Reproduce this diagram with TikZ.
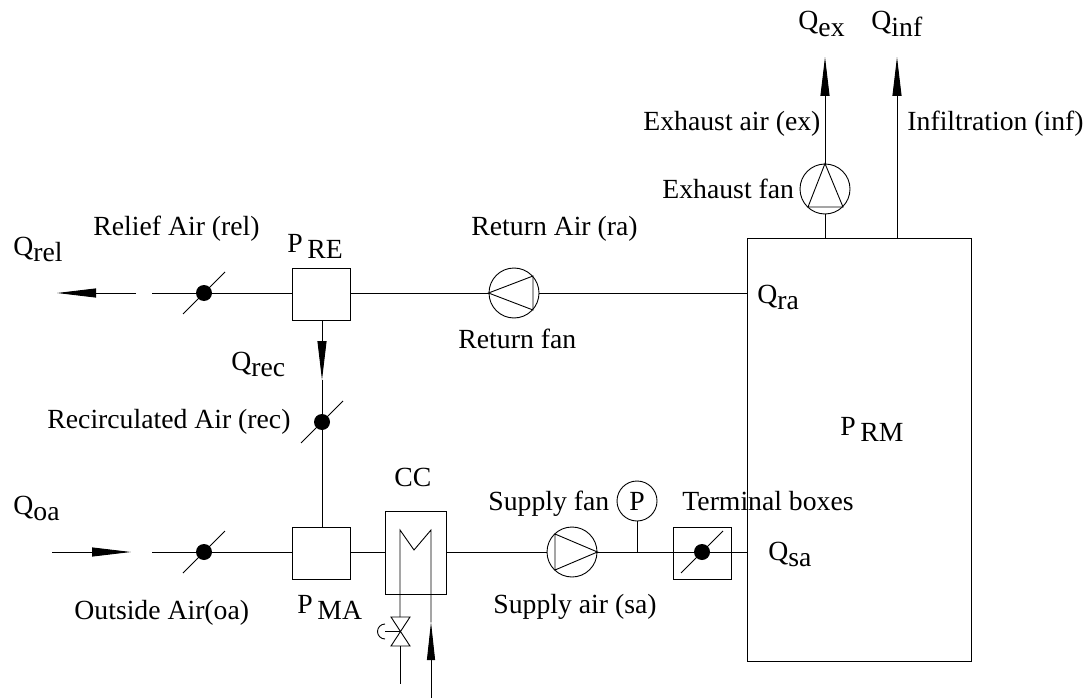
\documentclass[tikz,border=0pt]{standalone}
\usepackage{fontspec}
\setmainfont{Liberation Serif}
\usetikzlibrary{calc,positioning,arrows.meta}
\newcommand{\Qsub}[2]{#1\raisebox{-0.5ex}{#2}}
\tikzset{
    x=1pt, y=-1pt,
    every node/.style={font=\fontsize{27.7}{32}\selectfont},
    every path/.style={line width=0.9pt},
    boxN/.style={draw, minimum width=58pt, minimum height=52pt, inner sep=0pt},
    fanN/.style={draw, circle, minimum size=50pt, inner sep=0pt},
    dotN/.style={circle, fill=black, minimum size=16pt, inner sep=0pt},
    flow/.style={-{Triangle[length=39pt,width=9pt]}},
    lbl/.style={inner sep=0pt, anchor=base west}
}
\begin{document}
\begin{tikzpicture}
	\useasboundingbox (0,0) rectangle (1090,698);
	% room
	\node[draw, minimum width=224pt, minimum height=423pt, inner sep=0pt] (rm) at (859,449.5) {};
	\coordinate (rmRa) at (rm.west |- 0,293);
	\coordinate (rmSa) at (rm.west |- 0,552);
	% mixing boxes
	\node[boxN] (re) at (321,294) {};
	\node[boxN] (ma) at (321,553) {};
	\node[draw, minimum width=61pt, minimum height=83pt, inner sep=0pt] (cc) at (415.5,552.5) {};
	\node[boxN] (tb) at (702,553) {};
	% fans
	\node[fanN] (fr) at (514,293) {};
	\node[fanN] (fs) at (572,552) {};
	\node[fanN] (fe) at (825,189) {};
	\draw (fr.west) -- (533,276) -- (533,310) -- cycle;
	\draw (fs.east) -- (555,534) -- (555,570) -- cycle;
	\draw (fe.north) -- (808,207) -- (843,207) -- cycle;
	% dampers
	\node[dotN] (d1) at (204,293) {};
	\node[dotN] (d2) at (322,422) {};
	\node[dotN] (d3) at (204,552) {};
	\node[dotN] (d4) at (702,552) {};
	\foreach \d in {d1,d2,d3,d4}
		\draw ($(\d)+(-21,21)$) -- ($(\d)+(21,-21)$);
	% pressure sensor
	\node[draw, circle, minimum size=40pt, inner sep=0pt] (ps) at (637,501) {P};
	\coordinate (psT) at (637,552);
	% free ends
	\coordinate (relA) at (136,293);
	\coordinate (relT) at (57,293);
	\coordinate (relB) at (152,293);
	\coordinate (oaA) at (52,552);
	\coordinate (oaT) at (131,552);
	\coordinate (oaB) at (152,552);
	\coordinate (exT) at (825,57);
	\coordinate (inT) at (897,57);
	\coordinate (inB) at (897,238);
	\coordinate (exB) at (825,238);
	\coordinate (reB) at (322,320);
	\coordinate (recT) at (322,380);
	\coordinate (maT) at (322,527);
	% ducts
	\draw (relB) -- (relB -| re.west);
	\draw[flow] (relA) -- (relT);
	\draw (fr.west -| re.east) -- (fr.west);
	\draw (fr.east) -- (rmRa);
	\draw[flow] (reB) -- (recT);
	\draw (recT) -- (maT);
	\draw (oaB) -- (oaB -| ma.west);
	\draw[flow] (oaA) -- (oaT);
	\draw (oaB -| ma.east) -- (oaB -| cc.west);
	\draw (oaB -| cc.east) -- (fs.west);
	\draw (fs.east) -- (rmSa);
	\draw (ps.south) -- (psT);
	\draw (exB) -- (fe.south);
	\draw[flow] (fe.north) -- (exT);
	\draw[flow] (inB) -- (inT);
	% coil and valve
	\coordinate (vT) at (400,617);
	\coordinate (vC) at (400,631.5);
	\coordinate (vB) at (400,646);
	\coordinate (vE) at (400,684);
	\coordinate (wT) at (431,622);
	\coordinate (wE) at (431,698);
	\coordinate (act) at (385,631.5);
	\draw (vT) -- (400,530) -- (414,550) -- (431,530) -- (wT);
	\draw (391,617) -- (410,617) -- (391,646) -- (410,646) -- cycle;
	\draw (vB) -- (vE);
	\draw (vC) -- (act);
	\draw (385,639) arc[start angle=90, end angle=270, radius=7.5];
	\draw[-{Triangle[length=38pt,width=8pt]}] (wE) -- (wT);
	% labels
	\node[lbl] (lQrel) at (13,255) {\Qsub{Q}{rel}};
	\node[lbl] (lRel) at (93,235) {Relief Air (rel)};
	\node[lbl] (lPre) at (287,252) {P\,\raisebox{-0.5ex}{RE}};
	\node[lbl] (lRa) at (471,235) {Return Air (ra)};
	\node[lbl] (lRf) at (458,348) {Return fan};
	\node[lbl] (lQra) at (757,303) {\Qsub{Q}{ra}};
	\node[lbl] (lQrec) at (231,370) {\Qsub{Q}{rec}};
	\node[lbl] (lRec) at (47,428) {Recirculated Air (rec)};
	\node[lbl] (lQoa) at (13,514) {\Qsub{Q}{oa}};
	\node[lbl] (lOa) at (74,619) {Outside Air(oa)};
	\node[lbl] (lPma) at (297,613) {P\,\raisebox{-0.5ex}{MA}};
	\node[lbl] (lCc) at (394,486) {CC};
	\node[lbl] (lSf) at (488,510) {Supply fan};
	\node[lbl] (lSa) at (493,613) {Supply air (sa)};
	\node[lbl] (lTb) at (682,510) {Terminal boxes};
	\node[lbl] (lQsa) at (768,560) {\Qsub{Q}{sa}};
	\node[lbl] (lPrm) at (840,435) {P\,\raisebox{-0.5ex}{RM}};
	\node[lbl] (lEf) at (662,198) {Exhaust fan};
	\node[lbl] (lEx) at (643,131) {Exhaust air (ex)};
	\node[lbl] (lIn) at (907,131) {Infiltration (inf)};
	\node[lbl] (lQex) at (798,30) {\Qsub{Q}{ex}};
	\node[lbl] (lQin) at (871,30) {\Qsub{Q}{inf}};
\end{tikzpicture}
\end{document}
